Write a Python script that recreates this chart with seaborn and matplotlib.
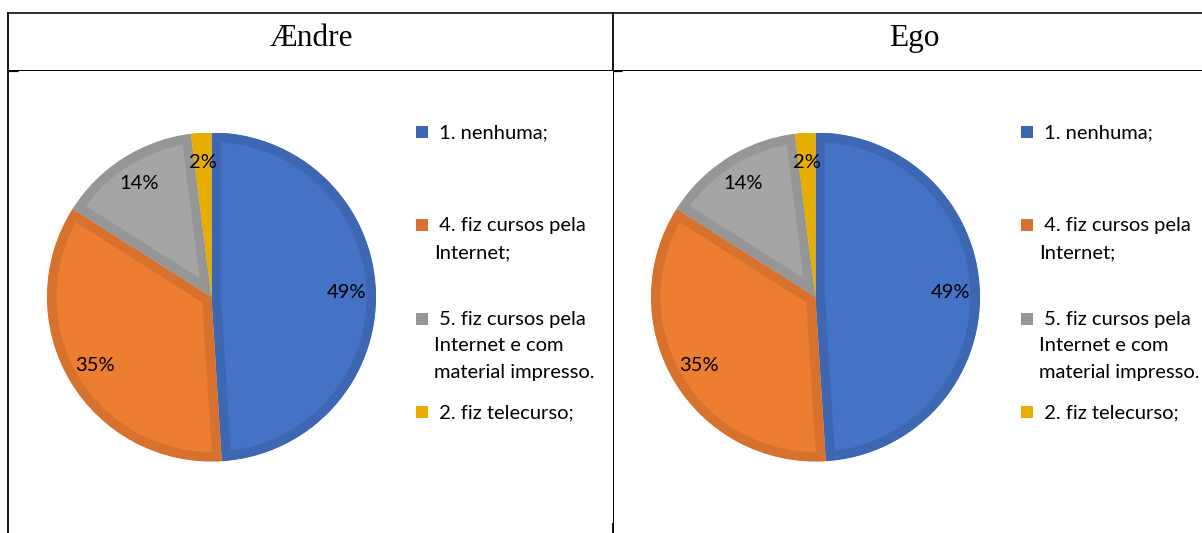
import matplotlib
matplotlib.use("Agg")
import matplotlib.pyplot as plt
from matplotlib.lines import Line2D
from matplotlib.patches import Rectangle
import seaborn as sns

# ---- data -------------------------------------------------------------
panel_titles = ["Ændre", "Ego"]
categories = [
    " 1. nenhuma;",
    " 4. fiz cursos pela\nInternet;",
    " 5. fiz cursos pela\nInternet e com\nmaterial impresso.",
    " 2. fiz telecurso;",
]
andre_share = [49, 35, 14, 2]
ego_share = [49, 35, 14, 2]

fill_colors = ["#4472C4", "#ED7D31", "#A5A5A5", "#FFC000"]
edge_colors = ["#3D67B2", "#D6712E", "#969696", "#E6AE00"]

# ---- figure setup -----------------------------------------------------
sns.set_theme(style="white")
plt.rcParams["font.family"] = ["Lato", "DejaVu Sans"]

W, H, DPI = 1202, 533, 100
PT = 72 / DPI  # points per pixel

fig = plt.figure(figsize=(W / DPI, H / DPI), dpi=DPI)
fig.patch.set_facecolor("white")


def fx(x):
    return x / W


def fy(y):
    return 1 - y / H


def hline(y, x0, x1, lw):
    fig.add_artist(Line2D([fx(x0), fx(x1)], [fy(y), fy(y)], color="black",
                          lw=lw * PT, solid_capstyle="butt"))


def vline(x, y0, y1, lw):
    fig.add_artist(Line2D([fx(x), fx(x)], [fy(y0), fy(y1)], color="black",
                          lw=lw * PT, solid_capstyle="butt"))


# table grid
hline(13, 6.5, W, 1.6)
hline(69.5, 7, W, 1.0)
vline(7.5, 12, H, 1.8)
vline(613, 12, 70, 1.8)
vline(613, 70, H, 1.0)
vline(613, 523, H, 1.8)
hline(71, 8, 18, 1.2)
hline(71, 613, 622, 1.2)

panels = [
    dict(title=panel_titles[0], values=andre_share, center=(211.5, 297),
         title_x=311, legend_x=416),
    dict(title=panel_titles[1], values=ego_share, center=(815.5, 297),
         title_x=914, legend_x=1021),
]

R = 164.5            # pie radius, px
LEG_FS = 14.5        # legend / percentage font size, pt
LINE_STEP = 26.5     # px between wrapped legend lines
FIRST_BASE = 138     # baseline of first legend entry, px
ENTRY_STEP = 93.4    # px between legend entries

for p in panels:
    cx, cy = p["center"]
    ax = fig.add_axes([fx(cx - R), fy(cy + R), 2 * R / W, 2 * R / H])
    wedges, _, autotexts = ax.pie(
        p["values"],
        colors=sns.color_palette(fill_colors),
        startangle=90,
        counterclock=False,
        autopct=lambda v: f"{v:.0f}%",
        pctdistance=0.82,
        radius=1,
        wedgeprops=dict(linewidth=19 * PT, joinstyle="round"),
        textprops=dict(fontsize=LEG_FS, color="black"),
    )
    # darker border kept inside each slice
    for w, ec in zip(wedges, edge_colors):
        w.set_edgecolor(ec)
        w.set_clip_on(True)
        w.set_clip_path(w)
    ax.set_xlim(-1, 1)
    ax.set_ylim(-1, 1)
    ax.set_aspect("equal")
    ax.axis("off")

    # column header
    fig.text(fx(p["title_x"]), fy(46), p["title"], ha="center", va="baseline",
             fontsize=22.5, family=["Liberation Serif", "DejaVu Serif"],
             color="black")

    # legend
    lx = p["legend_x"]
    for i, (label, ec) in enumerate(zip(categories, edge_colors)):
        base = FIRST_BASE + i * ENTRY_STEP
        sq = 12
        fig.add_artist(Rectangle((fx(lx), fy(base - 6 + sq / 2)), sq / W, sq / H,
                                 facecolor=ec, edgecolor="none"))
        for j, line in enumerate(label.split("\n")):
            fig.text(fx(lx + 18), fy(base + j * LINE_STEP), line,
                     ha="left", va="baseline", fontsize=LEG_FS, color="black")

fig.savefig("out.png", dpi=DPI, facecolor="white")
